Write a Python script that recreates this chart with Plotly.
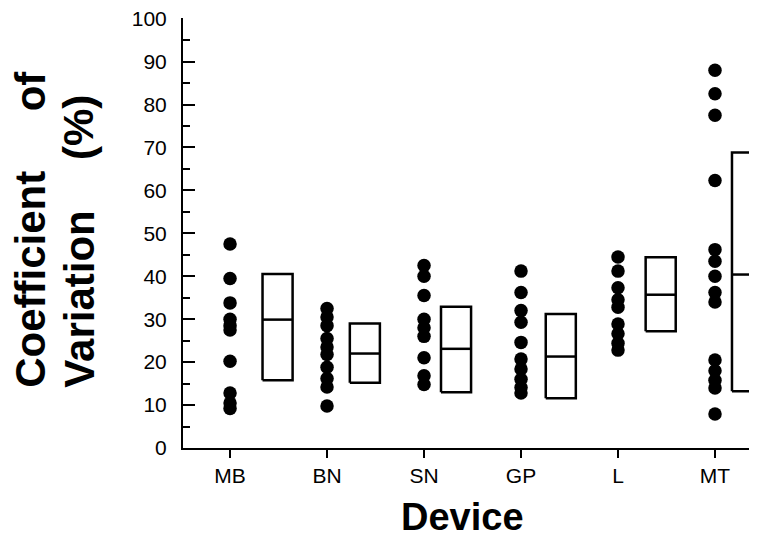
import plotly.graph_objects as go

# ---- data ----
devices = ["MB", "BN", "SN", "GP", "L", "MT"]

cv_MB = [47.5, 39.5, 33.8, 30.0, 28.5, 27.5, 20.2, 12.8, 10.5, 9.2]
cv_BN = [32.5, 30.5, 28.5, 25.5, 23.5, 21.8, 18.8, 16.2, 14.2, 9.8]
cv_SN = [42.5, 40.0, 35.5, 30.0, 28.0, 26.0, 21.0, 16.8, 14.8]
cv_GP = [41.2, 36.2, 32.0, 29.3, 24.6, 20.7, 18.4, 16.0, 14.1, 12.8]
cv_L = [44.5, 41.2, 37.3, 34.5, 32.8, 28.9, 26.6, 24.4, 22.8]
cv_MT = [88.0, 82.5, 77.5, 62.3, 46.2, 43.5, 40.0, 36.2, 34.0, 20.5, 18.0, 15.8, 14.0, 7.9]

box_mid = [29.9, 22.0, 23.1, 21.3, 35.7, 40.4]
box_top = [40.5, 29.0, 32.9, 31.2, 44.4, 68.8]
box_bot = [15.8, 15.2, 13.0, 11.6, 27.2, 13.2]

y_ticks = [0, 10, 20, 30, 40, 50, 60, 70, 80, 90, 100]

# ---- layout constants ----
box_offset = [0.49, 1.39, 2.33, 3.41, 4.44, 5.33]
box_half = 0.155

fig = go.Figure()

all_cv = [cv_MB, cv_BN, cv_SN, cv_GP, cv_L, cv_MT]
for i, vals in enumerate(all_cv):
    fig.add_trace(go.Scatter(
        x=[i] * len(vals), y=vals, mode="markers",
        marker=dict(size=13.5, color="black", line=dict(width=0)),
        showlegend=False, hoverinfo="y"))

for i in range(len(devices)):
    c = box_offset[i]
    x0, x1 = c - box_half, c + box_half
    fig.add_trace(go.Scatter(
        x=[x0, x1, x1, x0, x0, None, x0, x1],
        y=[box_bot[i], box_bot[i], box_top[i], box_top[i], box_bot[i], None, box_mid[i], box_mid[i]],
        mode="lines", line=dict(color="black", width=2.5),
        showlegend=False, hoverinfo="skip"))

font_tick = dict(family="Liberation Sans, Arial, sans-serif", size=21, color="black")
font_title = dict(family="Liberation Sans, Arial, sans-serif", size=42, color="black")

fig.update_layout(
    width=749, height=534,
    margin=dict(l=175, r=0, t=10, b=94),
    paper_bgcolor="white", plot_bgcolor="white",
    xaxis=dict(
        range=[-0.485, 5.433], tickvals=list(range(len(devices))), ticktext=devices,
        ticks="outside", ticklen=8, tickwidth=2, tickcolor="black",
        showline=True, linewidth=2, linecolor="black",
        showgrid=False, zeroline=False, tickfont=font_tick),
    yaxis=dict(
        range=[0, 100.15], tickvals=y_ticks,
        ticks="inside", ticklen=12, tickwidth=2, tickcolor="black",
        minor=dict(dtick=5, ticks="inside", ticklen=7, tickwidth=2, tickcolor="black", showgrid=False),
        showline=True, linewidth=2, linecolor="black",
        showgrid=False, zeroline=False, tickfont=font_tick, ticklabelstandoff=10,
        ticklabeloverflow="allow"),
)

ann = [
    ("<b>Coefficient</b>", -0.266, 13.5),
    ("<b>of</b>", -0.266, 77.9),
    ("<b>Variation</b>", -0.181, 13.5),
    ("<b>(%)</b>", -0.181, 66.5),
]
for text, xp, yv in ann:
    fig.add_annotation(text=text, x=xp, y=yv, xref="paper", yref="y",
                       textangle=-90, xanchor="center", yanchor="bottom",
                       showarrow=False, font=font_title)

fig.add_annotation(text="<b>Device</b>", x=0.487, y=-0.161, xref="paper", yref="paper",
                   xanchor="center", yanchor="middle", showarrow=False,
                   font=dict(family="Liberation Sans, Arial, sans-serif", size=38, color="black"))

fig.write_html("out.html")
